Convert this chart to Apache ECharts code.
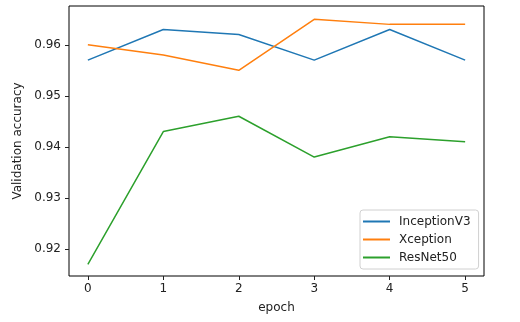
<!DOCTYPE html>
<html>
<head>
<meta charset="utf-8">
<script src="https://cdn.jsdelivr.net/npm/echarts@6/dist/echarts.min.js"></script>
<style>
  html, body { margin: 0; padding: 0; background: #fff; }
  #chart { width: 520px; height: 322px; }
</style>
</head>
<body>
<div id="chart"></div>
<script>
const epochs = [0, 1, 2, 3, 4, 5]
const inceptionV3 = [0.957, 0.963, 0.962, 0.957, 0.963, 0.957]
const xception = [0.960, 0.958, 0.955, 0.965, 0.964, 0.964]
const resNet50 = [0.917, 0.943, 0.946, 0.938, 0.942, 0.941]
const xTicks = [0, 1, 2, 3, 4, 5]
const yTicks = [0.92, 0.93, 0.94, 0.95, 0.96]

const font = 'DejaVu Sans'
const pair = (ys) => epochs.map((x, i) => [x, ys[i]])

const chart = echarts.init(document.getElementById('chart'), null, { renderer: 'canvas' })

const mkSeries = (name, ys, color) => ({
  type: 'line',
  name,
  data: pair(ys),
  symbol: 'none',
  lineStyle: { width: 1.5, color },
  itemStyle: { color },
  animation: false,
})

chart.setOption({
  animation: false,
  grid: {
    left: 69, right: 36, top: 6, bottom: 46,
    show: true, borderColor: '#000', borderWidth: 1,
  },
  xAxis: {
    type: 'value',
    min: -0.25,
    max: 5.25,
    name: 'epoch',
    nameLocation: 'middle',
    nameGap: 26,
    nameTextStyle: { fontFamily: font, fontSize: 12, color: '#222' },
    axisLine: { show: false, onZero: false },
    splitLine: { show: false },
    axisTick: { show: true, length: 4, inside: false, customValues: xTicks, lineStyle: { color: '#222' } },
    axisLabel: { customValues: xTicks, fontFamily: font, fontSize: 12, color: '#222', margin: 7 },
  },
  yAxis: {
    type: 'value',
    min: 0.9147,
    max: 0.9676,
    name: 'Validation accuracy',
    nameLocation: 'middle',
    nameGap: 42,
    nameTextStyle: { fontFamily: font, fontSize: 12, color: '#222' },
    axisLine: { show: false, onZero: false },
    splitLine: { show: false },
    axisTick: { show: true, length: 4, customValues: yTicks, lineStyle: { color: '#222' } },
    axisLabel: {
      customValues: yTicks, fontFamily: font, fontSize: 12, color: '#222', margin: 8,
      formatter: (v) => v.toFixed(2),
    },
  },
  legend: {
    orient: 'vertical',
    left: 360,
    top: 210,
    width: 118,
    padding: [4, 8, 4, 3],
    itemGap: 3,
    itemWidth: 27,
    itemHeight: 2,
    icon: 'rect',
    backgroundColor: 'rgba(255,255,255,0.8)',
    borderColor: '#d0d0d0',
    borderWidth: 1,
    borderRadius: 3,
    textStyle: { fontFamily: font, fontSize: 12, color: '#222', lineHeight: 15, padding: [0, 0, 0, 4] },
    data: ['InceptionV3', 'Xception', 'ResNet50'],
  },
  series: [
    mkSeries('InceptionV3', inceptionV3, '#1f77b4'),
    mkSeries('Xception', xception, '#ff7f0e'),
    mkSeries('ResNet50', resNet50, '#2ca02c'),
  ],
})
</script>
</body>
</html>
